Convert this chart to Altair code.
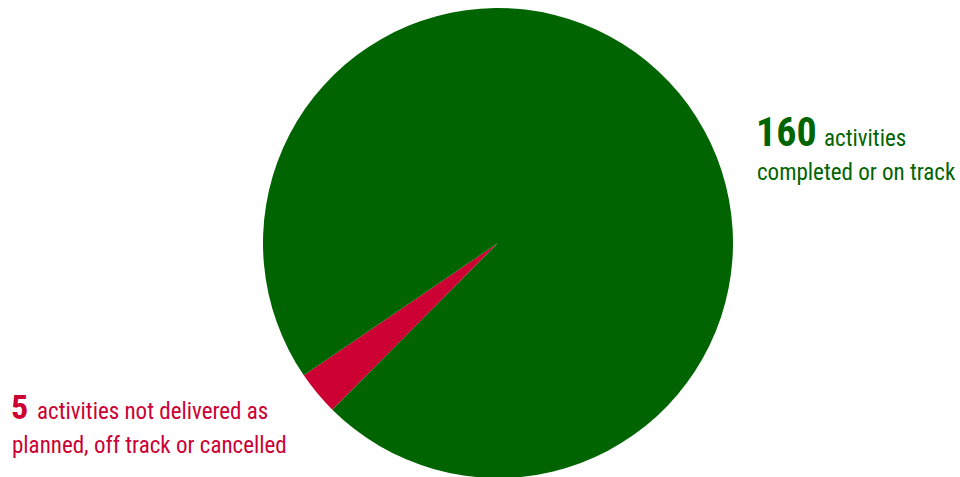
import altair as alt
import pandas as pd

categories = ["not delivered", "completed"]
counts = [5, 160]
colors = ["#CC0033", "#006400"]
order = [0, 1]

df = pd.DataFrame({"category": categories, "count": counts, "order": order})

start = 3.924
pie = alt.Chart(df).mark_arc(outerRadius=235, stroke=None).encode(
    theta=alt.Theta("count:Q", stack=True,
                    scale=alt.Scale(range=[start, start + 2 * 3.141592653589793])),
    color=alt.Color("category:N", scale=alt.Scale(domain=categories, range=colors), legend=None),
    order=alt.Order("order:Q"),
    x=alt.value(498),
    y=alt.value(243),
)

FONT = "Roboto Condensed"

def txt(s, x, y, size, color, bold=False):
    return alt.Chart(pd.DataFrame({"t": [s]})).mark_text(
        align="left", baseline="alphabetic", font=FONT, fontSize=size,
        fontWeight="bold" if bold else "normal", color=color
    ).encode(text="t:N", x=alt.value(x), y=alt.value(y))

labels = [
    txt(str(counts[1]), 756, 146, 40, colors[1], True),
    txt("activities", 824, 146, 23, colors[1]),
    txt("completed or on track", 757, 180, 23, colors[1]),
    txt(str(counts[0]), 11, 419, 34, colors[0], True),
    txt("activities not delivered as", 37, 419, 23, colors[0]),
    txt("planned, off track or cancelled", 12, 453, 23, colors[0]),
]

chart = alt.layer(pie, *labels).properties(
    width=960, height=477, padding=0, autosize=alt.AutoSizeParams(type="none")
).configure_view(stroke=None)

chart.save("out.html", embed_options={"renderer": "svg", "actions": False})
